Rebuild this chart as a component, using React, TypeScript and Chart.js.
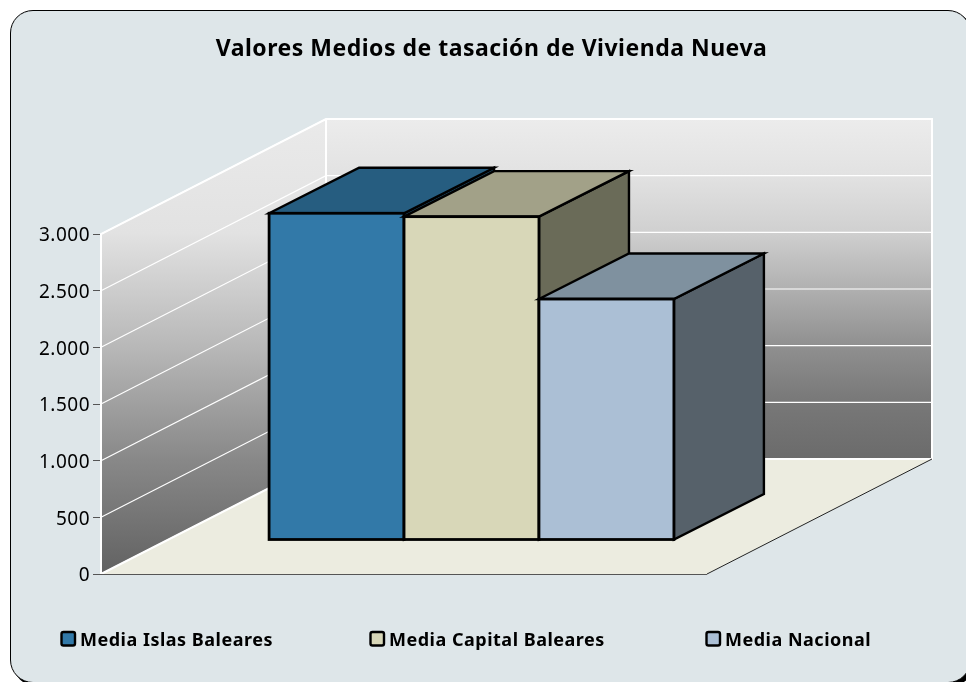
import React, { useEffect, useRef } from "react";
import { Chart, registerables } from "chart.js";

Chart.register(...registerables);

const categories = ["Valores"];
const titleText = "Valores Medios de tasación de Vivienda Nueva";
const seriesNames = ["Media Islas Baleares", "Media Capital Baleares", "Media Nacional"];
const seriesValues = [2883, 2853, 2126];
const frontColors = ["#3279A8", "#D8D7B8", "#ABBFD5"];
const topColors = ["#265D80", "#A2A188", "#7F919F"];
const sideColors = ["#1F4C69", "#6A6B58", "#56616A"];
const legendX = [60.5, 369.5, 705.5];
const backWallStops: [number, string][] = [
  [0, "#ECECEC"],
  [0.165, "#E2E2E2"],
  [0.33, "#D0D0D0"],
  [0.5, "#B0B0B0"],
  [0.665, "#909090"],
  [0.83, "#787878"],
  [1, "#6B6B6B"],
];
const sideWallStops: [number, string][] = [
  [0, "#EAEAEA"],
  [0.25, "#E2E2E2"],
  [0.5, "#B8B8B8"],
  [0.75, "#888888"],
  [1, "#626262"],
];

const FONT = "'Noto Sans', sans-serif";
const SPACING = "0.5px";
const depthX = 225;
const depthY = 115;
const barShiftX = 67.5;
const barShiftY = -34;
const barDepthX = 90;
const barDepthY = 45.5;

const scenePlugin = {
  id: "scene",
  afterLayout(chart: any) {
    const t = chart.titleBlock;
    if (t) {
      t.left = 0;
      t.right = 983;
    }
  },
  beforeDraw(chart: any) {
    (chart.ctx as any).letterSpacing = SPACING;
  },
  beforeDatasetsDraw(chart: any) {
    const { ctx, chartArea: a, scales } = chart;
    const y = scales.y;
    const L = a.left, R = a.right, T = a.top, B = a.bottom;
    ctx.save();
    // floor
    ctx.fillStyle = "#ECECE0";
    ctx.beginPath();
    ctx.moveTo(L, B);
    ctx.lineTo(L + depthX, B - depthY);
    ctx.lineTo(R + depthX, B - depthY);
    ctx.lineTo(R, B);
    ctx.closePath();
    ctx.fill();
    // back wall
    const g = ctx.createLinearGradient(0, T - depthY, 0, B - depthY);
    backWallStops.forEach(([o, c]) => g.addColorStop(o, c));
    ctx.fillStyle = g;
    ctx.fillRect(L + depthX, T - depthY, R - L, B - T);
    // left wall
    const g2 = ctx.createLinearGradient(0, T - depthY, 0, B);
    sideWallStops.forEach(([o, c]) => g2.addColorStop(o, c));
    ctx.fillStyle = g2;
    ctx.beginPath();
    ctx.moveTo(L, B);
    ctx.lineTo(L, T);
    ctx.lineTo(L + depthX, T - depthY);
    ctx.lineTo(L + depthX, B - depthY);
    ctx.closePath();
    ctx.fill();
    // grid lines
    ctx.strokeStyle = "#FFFFFF";
    ctx.lineWidth = 1.2;
    for (const tick of y.ticks) {
      const py = y.getPixelForValue(tick.value);
      ctx.beginPath();
      ctx.moveTo(L, py);
      ctx.lineTo(L + depthX, py - depthY);
      ctx.lineTo(R + depthX, py - depthY);
      ctx.stroke();
    }
    // wall edges
    ctx.lineWidth = 2;
    ctx.beginPath();
    ctx.moveTo(L, B);
    ctx.lineTo(L, T);
    ctx.lineTo(L + depthX, T - depthY);
    ctx.lineTo(R + depthX, T - depthY);
    ctx.lineTo(R + depthX, B - depthY);
    ctx.lineTo(L + depthX, B - depthY);
    ctx.lineTo(L, B);
    ctx.moveTo(L + depthX, B - depthY);
    ctx.lineTo(L + depthX, T - depthY);
    ctx.stroke();
    // floor edges
    ctx.lineWidth = 1;
    ctx.strokeStyle = "#222";
    ctx.beginPath();
    ctx.moveTo(R + depthX, B - depthY);
    ctx.lineTo(R, B);
    ctx.stroke();
    ctx.strokeStyle = "#555";
    ctx.beginPath();
    ctx.moveTo(L, B + 0.5);
    ctx.lineTo(R, B + 0.5);
    ctx.stroke();

    // bars: left to right, so that each one covers its neighbour's side
    chart.data.datasets.forEach((_: any, i: number) => {
      const el = chart.getDatasetMeta(i).data[0];
      const p = el.getProps(["x", "y", "base", "width"], true);
      const xl = p.x - p.width / 2 + barShiftX;
      const xr = p.x + p.width / 2 + barShiftX;
      const yt = p.y + barShiftY;
      const yb = p.base + barShiftY;
      ctx.lineWidth = 2.4;
      ctx.lineJoin = "miter";
      ctx.strokeStyle = "#000";
      ctx.fillStyle = sideColors[i];
      ctx.beginPath();
      ctx.moveTo(xr, yt);
      ctx.lineTo(xr + barDepthX, yt - barDepthY);
      ctx.lineTo(xr + barDepthX, yb - barDepthY);
      ctx.lineTo(xr, yb);
      ctx.closePath();
      ctx.fill();
      ctx.stroke();
      ctx.fillStyle = topColors[i];
      ctx.beginPath();
      ctx.moveTo(xl, yt);
      ctx.lineTo(xl + barDepthX, yt - barDepthY);
      ctx.lineTo(xr + barDepthX, yt - barDepthY);
      ctx.lineTo(xr, yt);
      ctx.closePath();
      ctx.fill();
      ctx.stroke();
      ctx.save();
      ctx.translate(barShiftX, barShiftY);
      el.draw(ctx);
      ctx.restore();
      ctx.lineWidth = 2.8;
      ctx.strokeRect(xl, yt, xr - xl, yb - yt);
    });
    ctx.restore();
    return false;
  },
  afterDraw(chart: any) {
    const { ctx } = chart;
    ctx.save();
    ctx.font = `bold 18px ${FONT}`;
    ctx.textBaseline = "middle";
    ctx.textAlign = "left";
    seriesNames.forEach((name, i) => {
      const x = legendX[i];
      ctx.fillStyle = frontColors[i];
      ctx.strokeStyle = "#000";
      ctx.lineWidth = 2.4;
      ctx.beginPath();
      ctx.roundRect(x + 1, 632, 13.5, 13.5, 2);
      ctx.fill();
      ctx.stroke();
      ctx.fillStyle = "#000";
      ctx.fillText(name, x + 19.5, 640.5);
    });
    ctx.restore();
  },
};

export default function App() {
  const ref = useRef<HTMLCanvasElement>(null);
  useEffect(() => {
    document.body.style.margin = "0";
    document.documentElement.style.overflow = "hidden";
    const chart = new Chart(ref.current as HTMLCanvasElement, {
      type: "bar",
      data: {
        labels: categories,
        datasets: seriesNames.map((name, i) => ({
          label: name,
          data: [seriesValues[i]],
          backgroundColor: frontColors[i],
          borderWidth: 0,
          categoryPercentage: 0.668,
          barPercentage: 1,
        })),
      },
      options: {
        responsive: false,
        animation: false,
        layout: { padding: { left: 0, top: 0, right: 259, bottom: 108 } },
        plugins: {
          legend: { display: false },
          tooltip: { enabled: false },
          title: {
            display: true,
            text: titleText,
            color: "#000",
            font: { family: FONT, size: 23, weight: "bold" },
            padding: { top: 36, bottom: 170.4 },
          },
        },
        scales: {
          x: { display: false },
          y: {
            min: 0,
            max: 3000,
            afterFit: (s: any) => {
              s.width = 101;
            },
            ticks: {
              stepSize: 500,
              color: "#000",
              padding: 3,
              labelOffset: 2,
              font: { family: FONT, size: 19 },
              callback: (v: any) => String(v).replace(/\B(?=(\d{3})+$)/g, "."),
            },
            grid: { drawOnChartArea: false, drawTicks: true, tickLength: 8, color: "#555" },
            border: { display: true, color: "#555" },
          },
        },
      },
      plugins: [scenePlugin],
    } as any);
    return () => chart.destroy();
  }, []);
  return (
    <div style={{ position: "relative", width: 966, height: 682, overflow: "hidden", background: "#fff" }}>
      <div
        style={{
          position: "absolute",
          left: 10,
          top: 10,
          width: 961,
          height: 673,
          boxSizing: "border-box",
          border: "1.5px solid #000",
          borderRadius: 23,
          background: "#DEE6E9",
          boxShadow: "3px 3px 0 #000",
        }}
      />
      <canvas ref={ref} width={966} height={682} style={{ position: "absolute", left: 0, top: 0 }} />
    </div>
  );
}
